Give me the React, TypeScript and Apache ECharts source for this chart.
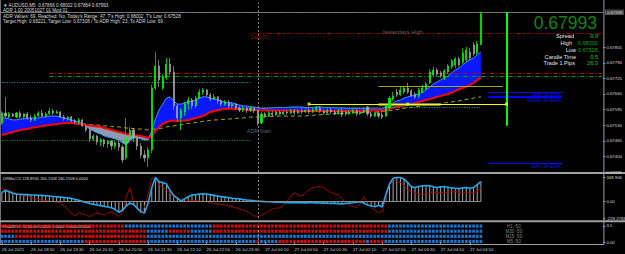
import React, { useEffect, useRef } from "react";
import * as echarts from "echarts";

// ---------------- data ----------------
const timeLabels = [
  "26 Jul 2021", "26 Jul 18:50", "26 Jul 19:30", "26 Jul 20:10", "26 Jul 20:50", "26 Jul 21:30",
  "26 Jul 22:10", "26 Jul 22:50", "26 Jul 23:30", "27 Jul 00:10", "27 Jul 00:50", "27 Jul 01:30",
  "27 Jul 02:10", "27 Jul 02:50", "27 Jul 03:30", "27 Jul 04:10", "27 Jul 04:50",
];
const priceTicks = [0.67335, 0.674, 0.67465, 0.6753, 0.67595, 0.6766, 0.67725, 0.6779, 0.67855];
const cciTicks = [-229.2783, 0, 348.906];
const cciTickLabels = ["-229.2783", "0.00", "348.906"];
const signalTicks = [0, 3.5];
const signalTickLabels = ["0.00", "3.5"];

const opens = [
  0.67539, 0.67581, 0.67564, 0.67577, 0.67564, 0.67581, 0.67564, 0.67577, 0.6756, 0.67552,
  0.67568, 0.67581, 0.67568, 0.67577, 0.67589, 0.67581, 0.67585, 0.67564, 0.67556, 0.67564,
  0.67548, 0.67543, 0.67552, 0.67527, 0.6751, 0.67473, 0.67485, 0.6746, 0.67468, 0.67452,
  0.67464, 0.67443, 0.67456, 0.67439, 0.67393, 0.67481, 0.6751, 0.67477, 0.67443, 0.67406,
  0.67393, 0.67427, 0.67685, 0.67777, 0.67685, 0.67727, 0.67785, 0.67752, 0.6761, 0.6756,
  0.67585, 0.67618, 0.67635, 0.6761, 0.67643, 0.67668, 0.67677, 0.67656, 0.67639, 0.67648,
  0.67631, 0.67618, 0.67627, 0.6761, 0.67618, 0.67602, 0.67593, 0.67602, 0.67593, 0.67602,
  0.67589, 0.67539, 0.67577, 0.67568, 0.67581, 0.67573, 0.67585, 0.67577, 0.67585, 0.67581,
  0.67589, 0.67581, 0.67589, 0.67585, 0.67593, 0.67585, 0.67593, 0.67602, 0.67589, 0.67581,
  0.67593, 0.67585, 0.67577, 0.67589, 0.67585, 0.67577, 0.67581, 0.67589, 0.67577, 0.67585,
  0.67606, 0.67577, 0.67568, 0.67581, 0.67573, 0.67568, 0.67602, 0.67639, 0.67668, 0.67656,
  0.67668, 0.67685, 0.67673, 0.6766, 0.67652, 0.67668, 0.67681, 0.67706, 0.67739, 0.6776,
  0.67748, 0.67727, 0.67752, 0.67773, 0.67781, 0.67806, 0.67793, 0.67802, 0.67835, 0.67864,
  0.67831, 0.67866,
];
const closes = [
  0.67581, 0.67568, 0.67577, 0.67568, 0.67581, 0.67564, 0.67577, 0.6756, 0.67552, 0.67568,
  0.67581, 0.67568, 0.67577, 0.67589, 0.67581, 0.67585, 0.67564, 0.67556, 0.67564, 0.67548,
  0.67543, 0.67552, 0.67527, 0.6751, 0.67473, 0.67485, 0.6746, 0.67468, 0.67452, 0.67464,
  0.67443, 0.67456, 0.67439, 0.67385, 0.67481, 0.6751, 0.67477, 0.67443, 0.67406, 0.67393,
  0.67427, 0.67685, 0.67777, 0.67718, 0.67731, 0.67785, 0.67752, 0.6761, 0.6756, 0.67593,
  0.67618, 0.67635, 0.6761, 0.67643, 0.67668, 0.67677, 0.67656, 0.67639, 0.67648, 0.67631,
  0.67618, 0.67627, 0.6761, 0.67618, 0.67602, 0.67593, 0.67602, 0.67593, 0.67602, 0.67589,
  0.67539, 0.67577, 0.67568, 0.67581, 0.67573, 0.67585, 0.67577, 0.67585, 0.67581, 0.67589,
  0.67581, 0.67589, 0.67585, 0.67593, 0.67585, 0.67593, 0.67602, 0.67589, 0.67581, 0.67593,
  0.67585, 0.67577, 0.67589, 0.67573, 0.67577, 0.67585, 0.67589, 0.67577, 0.67585, 0.67593,
  0.67577, 0.67568, 0.67581, 0.67568, 0.67564, 0.6761, 0.67643, 0.67652, 0.67656, 0.67677,
  0.67685, 0.67668, 0.67652, 0.67648, 0.67677, 0.67685, 0.67702, 0.67752, 0.6776, 0.67743,
  0.67735, 0.67756, 0.67777, 0.67798, 0.67806, 0.67781, 0.67831, 0.67843, 0.6781, 0.67827,
  0.67868, 0.67993,
];
const highs = [
  0.67589, 0.67648, 0.67585, 0.67581, 0.67585, 0.67589, 0.67581, 0.67585, 0.67573, 0.67577,
  0.67589, 0.67593, 0.67585, 0.67602, 0.67598, 0.67593, 0.67589, 0.67573, 0.67568, 0.67568,
  0.67556, 0.6756, 0.67556, 0.67531, 0.67518, 0.67493, 0.67489, 0.67477, 0.67473, 0.67468,
  0.67468, 0.67464, 0.67468, 0.67448, 0.6756, 0.67523, 0.67518, 0.67485, 0.67456, 0.67427,
  0.67439, 0.67698, 0.67835, 0.67802, 0.67743, 0.6781, 0.6781, 0.67777, 0.67618, 0.67602,
  0.67627, 0.67648, 0.67643, 0.67652, 0.67681, 0.67685, 0.67681, 0.67664, 0.6766, 0.67652,
  0.67639, 0.67635, 0.67635, 0.67627, 0.67623, 0.6761, 0.6761, 0.67606, 0.6761, 0.67606,
  0.67593, 0.67585, 0.67585, 0.67589, 0.67589, 0.67593, 0.67593, 0.67593, 0.67593, 0.67598,
  0.67598, 0.67598, 0.67602, 0.67602, 0.67606, 0.67602, 0.6761, 0.6761, 0.67598, 0.67602,
  0.67602, 0.67593, 0.67598, 0.67602, 0.67593, 0.67593, 0.67598, 0.67598, 0.67593, 0.67602,
  0.6761, 0.67585, 0.67585, 0.67589, 0.67593, 0.67618, 0.67652, 0.67668, 0.67681, 0.67689,
  0.67693, 0.67706, 0.67681, 0.67668, 0.67685, 0.67698, 0.6771, 0.67764, 0.67773, 0.67768,
  0.67756, 0.67764, 0.67785, 0.67806, 0.67814, 0.67814, 0.67852, 0.67856, 0.67852, 0.67877,
  0.67881, 0.68002,
];
const lows = [
  0.67531, 0.6756, 0.6756, 0.67564, 0.6756, 0.6756, 0.67556, 0.67552, 0.67543, 0.67548,
  0.67564, 0.67564, 0.6756, 0.67573, 0.67573, 0.67577, 0.6756, 0.67548, 0.67548, 0.67543,
  0.67535, 0.67535, 0.67523, 0.67502, 0.6746, 0.67464, 0.67448, 0.67443, 0.67439, 0.67435,
  0.67427, 0.67431, 0.67423, 0.67373, 0.67385, 0.67473, 0.6746, 0.67427, 0.67393, 0.67377,
  0.67356, 0.67414, 0.67677, 0.67689, 0.67677, 0.67718, 0.67739, 0.67593, 0.67543, 0.6751,
  0.67568, 0.67593, 0.67598, 0.67602, 0.67639, 0.67656, 0.67648, 0.67631, 0.67635, 0.67618,
  0.6761, 0.6761, 0.67602, 0.67602, 0.67593, 0.67585, 0.67585, 0.67581, 0.67585, 0.67581,
  0.67528, 0.67535, 0.6756, 0.67564, 0.67564, 0.67568, 0.67573, 0.67573, 0.67573, 0.67577,
  0.67573, 0.67577, 0.67577, 0.67581, 0.67577, 0.67581, 0.67585, 0.67581, 0.67573, 0.67577,
  0.67577, 0.67573, 0.67573, 0.67564, 0.67568, 0.67573, 0.67577, 0.67568, 0.67573, 0.67581,
  0.67568, 0.6756, 0.67564, 0.6756, 0.67556, 0.67564, 0.67593, 0.67631, 0.67648, 0.67652,
  0.6766, 0.6766, 0.67648, 0.67639, 0.67643, 0.67664, 0.67677, 0.67702, 0.67731, 0.67735,
  0.67727, 0.67718, 0.67743, 0.67764, 0.67768, 0.67773, 0.67785, 0.67793, 0.67802, 0.67818,
  0.67823, 0.67864,
];
const emaFast = [
  0.6756, 0.6756, 0.67556, 0.67552, 0.67552, 0.67556, 0.67556, 0.6756, 0.6756, 0.6756,
  0.6756, 0.67564, 0.67564, 0.67568, 0.67568, 0.67568, 0.67564, 0.6756, 0.67556, 0.67552,
  0.67548, 0.67543, 0.67535, 0.67527, 0.67514, 0.67506, 0.67498, 0.67493, 0.67485, 0.67481,
  0.67477, 0.67473, 0.67468, 0.67456, 0.67448, 0.67464, 0.67477, 0.67477, 0.67473, 0.67468,
  0.67468, 0.67506, 0.67556, 0.67593, 0.67618, 0.67643, 0.67648, 0.67631, 0.67618, 0.67618,
  0.67623, 0.67627, 0.67631, 0.67635, 0.67643, 0.67648, 0.67648, 0.67643, 0.67639, 0.67635,
  0.67631, 0.67627, 0.67623, 0.67623, 0.67618, 0.67614, 0.6761, 0.6761, 0.67606, 0.67606,
  0.67602, 0.676, 0.676, 0.67602, 0.67602, 0.67604, 0.67604, 0.67604, 0.67604, 0.67606,
  0.67606, 0.67606, 0.67606, 0.67604, 0.67604, 0.67604, 0.67606, 0.67606, 0.67604, 0.67604,
  0.67604, 0.67602, 0.67602, 0.67602, 0.676, 0.676, 0.676, 0.676, 0.676, 0.676,
  0.676, 0.67598, 0.67598, 0.67598, 0.67598, 0.67606, 0.67614, 0.67623, 0.67631, 0.67635,
  0.67643, 0.67648, 0.67652, 0.67656, 0.6766, 0.67668, 0.67677, 0.67689, 0.67702, 0.6771,
  0.67718, 0.67727, 0.67735, 0.67748, 0.6776, 0.67768, 0.67781, 0.67793, 0.67802, 0.6781,
  0.67823, 0.67835,
];
const emaSlow = [
  0.67489, 0.67493, 0.67498, 0.67502, 0.67506, 0.6751, 0.67512, 0.67514, 0.67518, 0.67521,
  0.67523, 0.67527, 0.67529, 0.67531, 0.67533, 0.67535, 0.67537, 0.67539, 0.67539, 0.67539,
  0.67537, 0.67535, 0.67535, 0.67531, 0.67529, 0.67527, 0.67525, 0.67523, 0.67518, 0.67514,
  0.6751, 0.67506, 0.67502, 0.67498, 0.67493, 0.67491, 0.67489, 0.67487, 0.67485, 0.67481,
  0.67477, 0.67485, 0.67506, 0.67523, 0.67535, 0.67543, 0.67548, 0.67548, 0.67548, 0.67548,
  0.6755, 0.67552, 0.67556, 0.6756, 0.67564, 0.67568, 0.67577, 0.67585, 0.67589, 0.67593,
  0.67595, 0.67598, 0.67598, 0.67598, 0.67598, 0.67598, 0.67595, 0.67593, 0.67593, 0.67593,
  0.67593, 0.67591, 0.67591, 0.67591, 0.67591, 0.67591, 0.67591, 0.67591, 0.67591, 0.67591,
  0.67591, 0.67589, 0.67589, 0.67589, 0.67589, 0.67589, 0.67589, 0.67589, 0.67589, 0.67589,
  0.67589, 0.67589, 0.67589, 0.67589, 0.67589, 0.67589, 0.67589, 0.67589, 0.67589, 0.67589,
  0.67589, 0.67591, 0.67591, 0.67591, 0.67591, 0.67593, 0.676, 0.67604, 0.67606, 0.6761,
  0.67612, 0.67614, 0.67618, 0.67623, 0.67627, 0.67631, 0.67635, 0.67639, 0.67643, 0.67648,
  0.67652, 0.67656, 0.6766, 0.67666, 0.67673, 0.67679, 0.67685, 0.67691, 0.67698, 0.67706,
  0.67718, 0.67731,
];
const maLong = [
  null, null, null, null, null, null, null, null, null, null,
  null, null, null, null, null, null, null, null, null, null,
  null, null, 0.67535, 0.67535, 0.67533, 0.67531, 0.67531, 0.67529, 0.67527, 0.67527,
  0.67525, 0.67523, 0.67523, 0.67521, 0.67518, 0.67518, 0.67516, 0.67514, 0.67514, 0.67512,
  0.6751, 0.67512, 0.67514, 0.67516, 0.67518, 0.67523, 0.67525, 0.67527, 0.67529, 0.67531,
  0.67535, 0.67537, 0.67539, 0.67541, 0.67543, 0.67546, 0.67548, 0.6755, 0.67552, 0.67552,
  0.67554, 0.67554, 0.67556, 0.67556, 0.67558, 0.6756, 0.6756, 0.67562, 0.67564, 0.67564,
  0.67564, 0.67564, 0.67566, 0.67566, 0.67566, 0.67568, 0.67568, 0.67568, 0.67568, 0.67568,
  0.67568, 0.67568, 0.67568, 0.67568, 0.67571, 0.67571, 0.67573, 0.67573, 0.67575, 0.67575,
  0.67577, 0.67577, 0.67579, 0.67579, 0.67581, 0.67581, 0.67581, 0.67583, 0.67583, 0.67583,
  0.67585, 0.67585, 0.67585, 0.67585, 0.67587, 0.67589, 0.67591, 0.67593, 0.67595, 0.67598,
  0.676, 0.67602, 0.67604, 0.67606, 0.67608, 0.6761, 0.67612, 0.67614, 0.67616, 0.67618,
  0.67621, 0.67623, 0.67625, 0.67627, 0.67629, 0.67631, 0.67635, 0.67637, 0.67639, 0.67643,
  0.67646, 0.67648,
];
const cciMain = [
  130, 160, 140, 120, 110, 105, 100, 100, 95, 95,
  90, 90, 85, 80, 75, 70, 65, 60, 55, 45,
  35, 20, 5, -10, -25, -35, -45, -55, -65, -75,
  -85, -110, -150, -120, -60, -20, -40, -90, -140, -160,
  -20, 200, 340, 280, 270, 250, 160, 90, 50, 10,
  40, 70, 95, 100, 110, 112, 110, 100, 90, 80,
  72, 65, 58, 50, 45, 40, 32, 25, 20, 15,
  8, 5, 2, 0, -3, -5, -8, -10, -12, -14,
  -12, -15, -14, -16, -15, -14, -16, -18, -20, -22,
  -25, -20, -28, -30, -25, -20, -15, -5, 0, -20,
  -45, -60, -70, -50, -75, 100, 250, 330, 345, 340,
  320, 270, 210, 200, 215, 225, 228, 225, 210, 200,
  210, 215, 205, 195, 190, 185, 195, 200, 190, 200,
  240, 285,
];
const cciSignal = [
  184, 175, 160, 140, 120, 100, 85, 70, 56, 45,
  35, 25, 15, 5, 0, -5, -14, -60, -110, -160,
  -200, -155, -170, -190, -210, -180, -160, -170, -190, -160,
  -141, -170, -210, -150, 60, 198, 0, -100, -155, -80,
  100, 339, 300, 240, 200, 169, 120, 71, 50, 40,
  30, 25, 20, 15, 10, 5, 0, -10, -20, -30,
  -40, -45, -55, -70, -85, -100, -120, -140, -170, -200,
  -212, -190, -160, -130, -100, -90, -85, -50, 10, 80,
  127, 100, 80, 120, 170, 200, 210, 212, 200, 160,
  130, 110, 99, 40, -14, -50, -70, -85, -20, 71,
  -20, -85, -120, -155, -140, 60, 250, 311, 290, 268,
  220, 160, 141, 125, 110, 99, 110, 125, 135, 130,
  120, 125, 135, 141, 141, 135, 130, 127, 120, 127,
  150, 198,
];

// signal runs: [fromBar, toBar, direction] (1 = up/blue, 0 = down/red)
const sigH1 = [[0, 33, 0], [34, 57, 1], [58, 105, 0], [106, 131, 1]];
const sigM30 = [[0, 39, 0], [40, 45, 1], [46, 51, 0], [52, 57, 1], [58, 105, 0], [106, 131, 1]];
const sigM15 = [[0, 3, 1], [4, 39, 0], [40, 131, 1]];
const sigM5 = [[0, 22, 1], [23, 39, 0], [40, 69, 1], [70, 70, 0], [71, 75, 1], [76, 99, 0], [100, 100, 1], [101, 104, 0], [105, 131, 1]];
const signalRowNames = ["M5", "M15", "M30", "H1"];
const signalRowLabels = ["M5 -50", "M15 -50", "M30 -50", "H1 -50"];

// levels
const bidPrice = 0.67993;
const yesterdayHigh = 0.67939;
const dailyR1 = 0.67914;
const dailyR1From = 68;
const upperRedLevel = 0.67748;
const upperGreenLevel = 0.67735;
const upperLevelsFrom = 13;
const prevCyanLevel = 0.6771;
const todayCyanLevel = 0.67606;
const prevGreenLevel = 0.67468;
const daySeparatorBar = 70;
const yellowLevel = 0.67618;
const yellowBars = [84, 111, 138];
const oliveLevel = 0.67693;
const oliveBars = [103, 137];
const oliveBandBars = [103, 120];
const emaLevelPrices = [0.67668, 0.67648, 0.67373];
const emaLevelNames = ["4HR 34 EMA", "WEEK 34 EMA", "DAY 34 EMA"];
const emaLevelBars = [133, 153];
const todayHigh = 0.68002;
const todayLow = 0.67528;
const dailyBarIndex = 138;

const noteTexts = ["Yesterdays High", "Daily R1", "ADR Start"];
const noteBars = [104, 68, 67];
const notePrices = [0.67918, 0.67895, 0.67506];

const headerLines = [
  "\u25BC AUDUSD,M5  0.67866 0.68002 0.67864 0.67993",
  "ADR 1.00 20051027 01 Mod 01",
  "ADR Values: 69, Reached: No, Today's Range: 47, T's High: 0.68002, T's Low: 0.67528",
  "Target High: 0.68221, Target Low: 0.67308 / To ADR High: 23, To ADR Low: 69",
];
const infoLabels = ["Spread", "High", "Low", "Candle Time", "Trade 1 Pips"];
const infoValues = ["0.9", "0.68002", "0.67528", "0:5", "26.0"];
const cciHeader = "DRMaCCI 228.8930 260.1508 260.1508 0.0000";
const signalHeader = "PhaZR 15 70 50.00 1.0000 2.0000 3.0000 4.0000";

// ---------------- chart ----------------
const FONT = "'Liberation Sans', Arial, sans-serif";
const SLOTS = 165;

export default function App() {
  const ref = useRef<HTMLDivElement>(null);

  useEffect(() => {
    document.body.style.margin = "0";
    document.body.style.background = "#000";
    if (!ref.current) return;
    const chart = echarts.init(ref.current, undefined, { renderer: "svg" });

    const cats = Array.from({ length: SLOTS }, (_, i) => String(i));
    const candleData = opens.map((o, i) => [o, closes[i], lows[i], highs[i]]);
    const ribbonBase = emaFast.map((f, i) => Math.min(f, emaSlow[i]));
    const ribbonUp = emaFast.map((f, i) => Math.max(f - emaSlow[i], 0));
    const ribbonDown = emaFast.map((f, i) => Math.max(emaSlow[i] - f, 0));

    const sigUp: any[] = [];
    const sigDown: any[] = [];
    const rows: [string, number[][]][] = [["H1", sigH1], ["M30", sigM30], ["M15", sigM15], ["M5", sigM5]];
    rows.forEach(([name, runs]) => {
      runs.forEach(([a, b, d]) => {
        for (let i = a; i <= b; i++) (d ? sigUp : sigDown).push([i, name]);
      });
    });

    const showTime = (idx: number) => idx % 8 === 0 && idx / 8 < timeLabels.length;
    const hiddenX = (gridIndex: number) => ({
      type: "category", gridIndex, data: cats, boundaryGap: true,
      axisLine: { show: false }, axisTick: { show: false }, axisLabel: { show: false }, splitLine: { show: false },
    });
    const dashDot = [4, 2, 1, 2];
    const seg = (from: number, to: number, price: number, lineStyle: any, label: any = { show: false }) => [
      { coord: [from, price], lineStyle, label },
      { coord: [to, price] },
    ];

    const lineEl = (x1: number, y1: number, x2: number, y2: number, stroke: string, lineWidth = 1) => ({
      type: "line", silent: true, shape: { x1, y1, x2, y2 }, style: { stroke, lineWidth },
    });
    const textEl = (x: number, y: number, text: string, fill: string, size: number, align = "left") => ({
      type: "text", silent: true, x, y,
      style: { text, fill, font: `${size}px ${FONT}`, textAlign: align, textVerticalAlign: "middle" },
    });

    const infoY = [35.5, 42.5, 49.5, 56.5, 63];
    const graphics: any[] = [
      lineEl(0.5, 0, 0.5, 244.5, "#707070"),
      lineEl(603.9, 0, 603.9, 244.5, "#a0a0a0"),
      lineEl(0, 173, 625, 173, "#a0a0a0", 2),
      lineEl(0, 221.3, 625, 221.3, "#a0a0a0", 2),
      lineEl(0, 244.5, 604, 244.5, "#a0a0a0", 1),
      ...headerLines.map((t, i) => textEl(3, [5, 10.5, 16.2, 21.8][i], t, "#dcdcdc", 4.6)),
      textEl(597, 23, "0.67993", "#0e860e", 17.5, "right"),
      ...infoLabels.map((t, i) => textEl([574, 572, 576, 576, 575][i], infoY[i], t, "#e6e6e6", 5.6, "right")),
      ...infoValues.map((t, i) => textEl(598, infoY[i], t, i === 1 || i === 2 ? "#10a010" : "#10d010", 5.6, "right")),
      textEl(3, 178.5, cciHeader, "#dcdcdc", 4),
      textEl(3, 226.3, signalHeader, "#ffffff", 4),
    ];

    const option: any = {
      backgroundColor: "#000000",
      animation: false,
      textStyle: { fontFamily: FONT },
      grid: [
        { left: 0, right: 21.6, top: 3, height: 169, outerBoundsMode: "none" },
        { left: 0, right: 21.6, top: 177, height: 41, outerBoundsMode: "none" },
        { left: 0, right: 21.6, top: 223.5, height: 20.5, outerBoundsMode: "none" },
      ],
      xAxis: [
        hiddenX(0),
        hiddenX(1),
        {
          ...hiddenX(2),
          axisTick: { show: true, interval: showTime, length: 2, alignWithLabel: true, lineStyle: { color: "#a0a0a0" } },
          axisLabel: {
            show: true, interval: showTime, align: "left", color: "#d0d0d0", fontSize: 4.3, margin: 3.5, fontFamily: FONT,
            formatter: (v: string) => timeLabels[Number(v) / 8] ?? "",
          },
        },
      ],
      yAxis: [
        {
          type: "value", gridIndex: 0, position: "right", min: 0.67335, max: 0.68039,
          splitLine: { show: false }, axisLine: { show: false },
          axisTick: { show: true, customValues: priceTicks, length: 2, lineStyle: { color: "#a0a0a0" } },
          axisLabel: { customValues: priceTicks, formatter: (v: number) => v.toFixed(5), color: "#dcdcdc", fontSize: 4.3, margin: 3, fontFamily: FONT },
        },
        {
          type: "value", gridIndex: 1, position: "right", min: cciTicks[0], max: cciTicks[2],
          splitLine: { show: false }, axisLine: { show: false },
          axisTick: { show: true, customValues: cciTicks, length: 2, lineStyle: { color: "#a0a0a0" } },
          axisLabel: {
            customValues: cciTicks, color: "#dcdcdc", fontSize: 4.3, margin: 3, fontFamily: FONT,
            formatter: (v: number) => {
              let k = 0;
              cciTicks.forEach((t, i) => { if (Math.abs(t - v) < Math.abs(cciTicks[k] - v)) k = i; });
              return cciTickLabels[k];
            },
          },
        },
        {
          type: "value", gridIndex: 2, position: "right", min: -0.3, max: 4,
          splitLine: { show: false }, axisLine: { show: false },
          axisTick: { show: true, customValues: signalTicks, length: 2, lineStyle: { color: "#a0a0a0" } },
          axisLabel: {
            customValues: signalTicks, color: "#dcdcdc", fontSize: 4.3, margin: 3, fontFamily: FONT,
            formatter: (v: number) => signalTickLabels[v < 1 ? 0 : 1],
          },
        },
        {
          type: "category", gridIndex: 2, data: signalRowNames, show: false,
        },
      ],
      series: [
        // EMA ribbon
        { type: "line", name: "ribBase", xAxisIndex: 0, yAxisIndex: 0, stack: "rib", data: ribbonBase, symbol: "none", lineStyle: { width: 0, opacity: 0 }, silent: true, z: 1 },
        { type: "line", name: "ribUp", xAxisIndex: 0, yAxisIndex: 0, stack: "rib", data: ribbonUp, symbol: "none", lineStyle: { width: 0, opacity: 0 }, areaStyle: { color: "#0a18ff", opacity: 1 }, silent: true, z: 1 },
        { type: "line", name: "ribDown", xAxisIndex: 0, yAxisIndex: 0, stack: "rib", data: ribbonDown, symbol: "none", lineStyle: { width: 0, opacity: 0 }, areaStyle: { color: "#8c9db0", opacity: 1 }, silent: true, z: 1 },
        { type: "line", name: "emaFast", xAxisIndex: 0, yAxisIndex: 0, data: emaFast, symbol: "none", lineStyle: { color: "#3a8fff", width: 1 }, silent: true, z: 2 },
        { type: "line", name: "maLong", xAxisIndex: 0, yAxisIndex: 0, data: maLong, symbol: "none", connectNulls: false, lineStyle: { color: "#a8a800", width: 1, type: [4, 3] }, silent: true, z: 2 },
        { type: "line", name: "emaSlow", xAxisIndex: 0, yAxisIndex: 0, data: emaSlow, symbol: "none", lineStyle: { color: "#ff0000", width: 2 }, silent: true, z: 3 },
        {
          type: "candlestick", name: "AUDUSD", xAxisIndex: 0, yAxisIndex: 0, data: candleData, barWidth: 1.6, z: 5,
          itemStyle: { color: "#00ff00", color0: "#a6a6a6", borderColor: "#00ff00", borderColor0: "#a6a6a6", borderWidth: 0.7 },
          markLine: {
            symbol: ["none", "none"], silent: true, animation: false, label: { show: false },
            data: [
              { yAxis: bidPrice, lineStyle: { color: "#6e6e6e", width: 1, type: "solid" },
                label: { show: true, position: "end", distance: 2, formatter: bidPrice.toFixed(5), color: "#000", backgroundColor: "#ffffff", padding: [0.5, 1.5], fontSize: 4.3 } },
              { yAxis: yesterdayHigh, lineStyle: { color: "#7a7a7a", width: 1, type: [6, 3] },
                label: { show: true, position: "end", distance: 2, formatter: yesterdayHigh.toFixed(5), color: "#e0e0e0", backgroundColor: "#3c3c3c", padding: [0.5, 1.5], fontSize: 4.3 } },
              seg(dailyR1From, SLOTS - 1, dailyR1, { color: "#c00000", width: 1, type: [1, 1.5] }),
              seg(upperLevelsFrom, SLOTS - 1, upperRedLevel, { color: "#c00000", width: 1, type: dashDot }),
              seg(upperLevelsFrom, SLOTS - 1, upperGreenLevel, { color: "#00a000", width: 1, type: dashDot }),
              seg(0, dailyR1From, prevCyanLevel, { color: "#00a0a8", width: 1, type: [1, 1.5] }),
              seg(daySeparatorBar - 1, 131, todayCyanLevel, { color: "#00a0a8", width: 1, type: [1, 1.5] }),
              seg(0, dailyR1From, prevGreenLevel, { color: "#00a000", width: 1, type: [1, 1.5] }),
              seg(oliveBandBars[0], oliveBandBars[1], yellowLevel, { color: "#807c40", width: 3, type: "solid" }),
              seg(yellowBars[0], yellowBars[2], yellowLevel, { color: "#ffff00", width: 1, type: "solid" }),
              seg(oliveBars[0], oliveBars[1], oliveLevel, { color: "#a8a800", width: 1, type: "solid" }),
              ...emaLevelPrices.map((p, i) =>
                seg(emaLevelBars[0], emaLevelBars[1], p, { color: "#0000ff", width: i === 1 ? 2 : 1, type: "solid" },
                  { show: true, position: "insideEndBottom", distance: 0.5, formatter: emaLevelNames[i], color: "#1010e8", fontSize: 5 })),
              [{ coord: [dailyBarIndex, todayHigh], lineStyle: { color: "#00ff00", width: 2, type: "solid" } }, { coord: [dailyBarIndex, todayLow] }],
              { xAxis: daySeparatorBar, lineStyle: { color: "#a0a0a0", width: 0.8, type: [2, 2] } },
            ],
          },
        },
        {
          type: "scatter", name: "yellowPoints", xAxisIndex: 0, yAxisIndex: 0, symbol: "rect", symbolSize: 3, z: 6, silent: true,
          itemStyle: { color: "#ffff00" }, data: yellowBars.map((b) => [b, yellowLevel]),
        },
        {
          type: "scatter", name: "notes", xAxisIndex: 0, yAxisIndex: 0, symbolSize: 0, z: 7, silent: true,
          data: noteTexts.map((t, i) => ({
            value: [noteBars[i], notePrices[i]], name: t,
            label: { show: true, position: "right", distance: 0, formatter: "{b}", fontSize: [5.6, 4.8, 5.4][i], color: ["#7c7c7c", "#d00000", "#6f7f90"][i] },
          })),
        },
        // CCI panel
        {
          type: "bar", name: "cciHist", xAxisIndex: 1, yAxisIndex: 1, data: cciMain, barWidth: 0.8, silent: true,
          itemStyle: { color: "#a8a8a8" },
          markLine: {
            symbol: ["none", "none"], silent: true, label: { show: false },
            data: [
              [{ coord: [0, 0], lineStyle: { color: "#8a8a8a", width: 1, type: "solid" } }, { coord: [131, 0] }],
              { xAxis: daySeparatorBar, lineStyle: { color: "#a0a0a0", width: 0.8, type: [2, 2] } },
            ],
          },
        },
        { type: "line", name: "cciSignal", xAxisIndex: 1, yAxisIndex: 1, data: cciSignal, symbol: "none", lineStyle: { color: "#a00000", width: 1 }, silent: true, z: 3 },
        { type: "line", name: "cciMain", xAxisIndex: 1, yAxisIndex: 1, data: cciMain, symbol: "none", lineStyle: { color: "#22a6e8", width: 1.6 }, silent: true, z: 4 },
        // signal panel
        {
          type: "scatter", name: "sigUp", xAxisIndex: 2, yAxisIndex: 3, data: sigUp, symbol: "rect", symbolSize: [2.7, 3.2], silent: true,
          itemStyle: { color: "#1e90ff" }, clip: false,
          markLine: {
            symbol: ["none", "none"], silent: true, label: { show: false },
            data: [{ xAxis: daySeparatorBar, lineStyle: { color: "#a0a0a0", width: 0.8, type: [2, 2] } }],
          },
        },
        {
          type: "scatter", name: "sigDown", xAxisIndex: 2, yAxisIndex: 3, data: sigDown, symbol: "rect", symbolSize: [2.7, 3.2], silent: true,
          itemStyle: { color: "#ff1010" }, clip: false,
        },
        {
          type: "scatter", name: "sigLabels", xAxisIndex: 2, yAxisIndex: 3, symbolSize: 0, silent: true, z: 6,
          data: signalRowNames.map((r, i) => ({
            value: [140, r], name: signalRowLabels[i],
            label: { show: true, position: "inside", formatter: "{b}", color: "#a8a8a8", fontSize: 4.6 },
          })),
        },
      ],
      graphic: { elements: graphics },
    };

    chart.setOption(option);
    return () => chart.dispose();
  }, []);

  return (
    <div
      ref={ref}
      style={{ position: "fixed", left: 0, top: 0, width: 625, height: 254, background: "#000" }}
    />
  );
}
